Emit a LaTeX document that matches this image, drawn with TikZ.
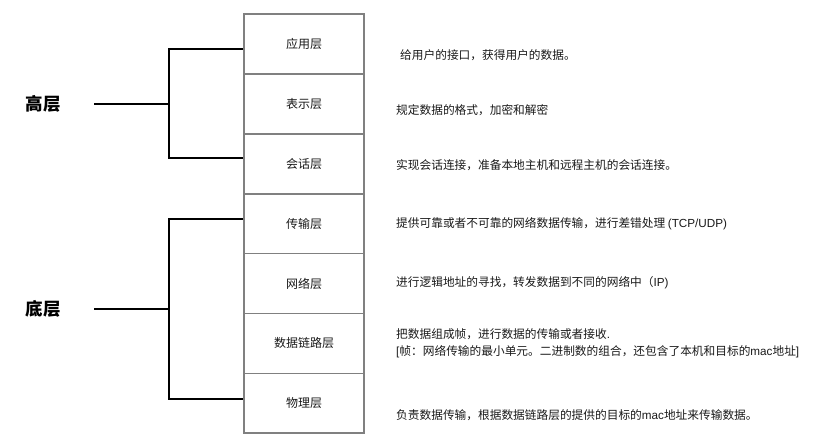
\documentclass[tikz,border=0pt]{standalone}
\usepackage{fontspec}
\setmainfont{Noto Sans CJK SC}
\newfontfamily\latinf{Liberation Sans}
\usetikzlibrary{calc}
\definecolor{boxgray}{HTML}{808080}
\definecolor{txt}{HTML}{1A1A1A}
\newcommand{\lat}[1]{{\latinf #1}}
\begin{document}
\begin{tikzpicture}[x=1pt,y=-1pt,
  layerbox/.style={draw=boxgray,line width=1.8pt,minimum width=120pt,minimum height=59.9pt,inner sep=0pt,font=\fontsize{12}{14}\selectfont,text=txt},
  desc/.style={anchor=west,inner sep=0pt,align=left,font=\fontsize{11.7}{17}\selectfont,text=txt},
  biglabel/.style={inner sep=0pt,font=\fontsize{17.5}{20}\selectfont\bfseries,text=black},
  bracket/.style={draw=black,line width=2.2pt}]
\useasboundingbox[fill=white] (0,0) rectangle (832,446);
% layer boxes
\node[layerbox] (app) at (304,43.95) {应用层};
\node[layerbox] (pre) at (304,103.85) {表示层};
\node[layerbox] (ses) at (304,163.75) {会话层};
\node[layerbox] (tra) at (304,223.65) {传输层};
\node[layerbox] (net) at (304,283.55) {网络层};
\node[layerbox] (dl)  at (304,343.45) {数据链路层};
\node[layerbox] (phy) at (304,403.35) {物理层};
% labels
\node[biglabel] (high) at (43,104) {高层};
\node[biglabel] (low) at (43,309) {底层};
% brackets
\coordinate (hs) at (94,104);
\coordinate (hm) at (169,104);
\coordinate (ht) at (169,49);
\coordinate (hb) at (169,158);
\draw[bracket] (hs) -- (hm);
\draw[bracket] (ht -| app.west) -- (ht) -- (hb) -- (hb -| ses.west);
\coordinate (ls) at (94,309);
\coordinate (lm) at (169,309);
\coordinate (lt) at (169,219);
\coordinate (lb) at (169,399);
\draw[bracket] (ls) -- (lm);
\draw[bracket] (lt -| tra.west) -- (lt) -- (lb) -- (lb -| phy.west);
% descriptions
\node[desc] (d1) at (400,55) {给用户的接口，获得用户的数据。};
\node[desc] (d2) at (396,110) {规定数据的格式，加密和解密};
\node[desc] (d3) at (396,165) {实现会话连接，准备本地主机和远程主机的会话连接。};
\node[desc] (d4) at (396,224) {提供可靠或者不可靠的网络数据传输，进行差错处理 \lat{(TCP/UDP)}};
\node[desc] (d5) at (396,283) {进行逻辑地址的寻找，转发数据到不同的网络中（\lat{IP)}};
\node[desc] (d6) at (396,343.5) {把数据组成帧，进行数据的传输或者接收\lat{.}\\\lat{[}帧：网络传输的最小单元。二进制数的组合，还包含了本机和目标的\lat{mac}地址\lat{]}};
\node[desc] (d7) at (396,415) {负责数据传输，根据数据链路层的提供的目标的\lat{mac}地址来传输数据。};
\end{tikzpicture}
\end{document}
